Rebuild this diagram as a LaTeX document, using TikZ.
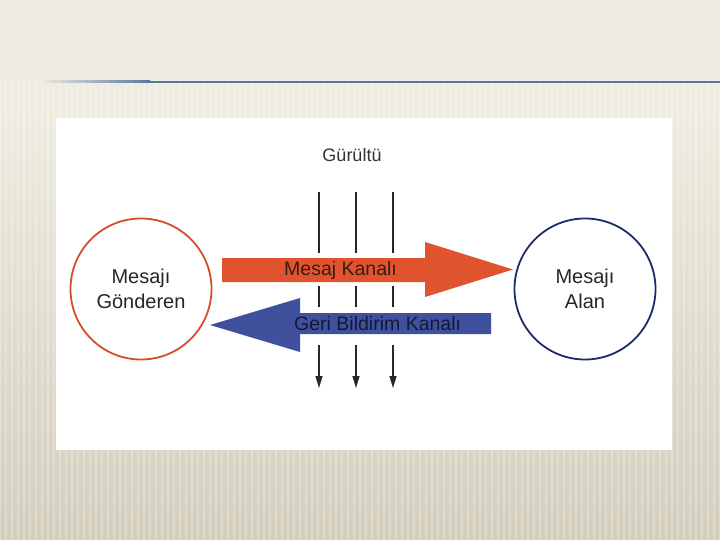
\documentclass[tikz,border=0pt]{standalone}
\usepackage{fontspec}
\setmainfont{Liberation Sans}
\usetikzlibrary{arrows.meta}
\definecolor{bgtop}{HTML}{EEEBE0}
\definecolor{bgbot}{HTML}{D3CEBC}
\definecolor{lineblue}{HTML}{5878A0}
\definecolor{redc}{HTML}{D44E2C}
\definecolor{redfill}{HTML}{E0532F}
\definecolor{navyc}{HTML}{1C2B6A}
\definecolor{bluefill}{HTML}{3F519C}
\definecolor{redtext}{HTML}{3A1A12}
\definecolor{bluetext}{HTML}{111838}
\tikzset{
  circlenode/.style={circle, line width=1.8pt, minimum size=141pt, inner sep=0pt, align=center, font=\fontsize{20}{25}\selectfont, text=black!85},
  chantext/.style={anchor=west, inner sep=0pt, font=\fontsize{19.5}{22}\selectfont},
  noise/.style={draw=black!85, line width=1.2pt},
  noisearrow/.style={noise, -{Triangle[length=12pt,width=7pt]}},
  stripe/.style={draw=white, line width=1.6pt}
}
\begin{document}
\begin{tikzpicture}[x=1pt,y=-1pt]
\useasboundingbox (0,0) rectangle (720,540);
% background
\fill[bgtop] (0,0) rectangle (720,110);
\shade[top color=bgtop, bottom color=bgbot] (0,110) rectangle (720,540);
\foreach \x in {0,6,...,720} {
  \draw[stripe, opacity=0.07] (\x,30) -- (\x,55);
  \draw[stripe, opacity=0.14] (\x,55) -- (\x,80);
  \draw[stripe, opacity=0.2] (\x,80) -- (\x,110);
  \draw[stripe, opacity=0.25] (\x,110) -- (\x,540);
}
% title rule
\shade[left color=bgtop, right color=lineblue] (40,81) rectangle (150,83);
\fill[lineblue] (149.5,81) rectangle (720,83);
% white panel
\fill[white] (56,118) rectangle (672,450);
% circles
\node[circlenode, draw=redc] (snd) at (141,289) {Mesajı\\Gönderen};
\node[circlenode, draw=navyc] (rcv) at (585,289) {Mesajı\\Alan};
% noise
\node[font=\fontsize{18}{20}\selectfont, text=black!80] (noise) at (352,155) {Gürültü};
\foreach \i/\x in {1/319,2/356,3/393} {
  \coordinate (a\i) at (\x,192);
  \coordinate (b\i) at (\x,253);
  \coordinate (c\i) at (\x,286);
  \coordinate (d\i) at (\x,307);
  \coordinate (e\i) at (\x,345);
  \coordinate (f\i) at (\x,388);
  \draw[noise] (a\i) -- (b\i);
  \draw[noise] (c\i) -- (d\i);
  \draw[noisearrow] (e\i) -- (f\i);
}
% message channel arrow
\fill[redfill] (222,258) -- (425,258) -- (425,242) -- (513,269.5) -- (425,297) -- (425,282) -- (222,282) -- cycle;
\node[chantext, text=redtext] (mk) at (284,270) {Mesaj Kanalı};
% feedback channel arrow
\fill[bluefill] (491,313) -- (300,313) -- (300,298) -- (210,325) -- (300,352) -- (300,334) -- (491,334) -- cycle;
\node[chantext, text=bluetext] (gb) at (294,323.5) {Geri Bildirim Kanalı};
\end{tikzpicture}
\end{document}
